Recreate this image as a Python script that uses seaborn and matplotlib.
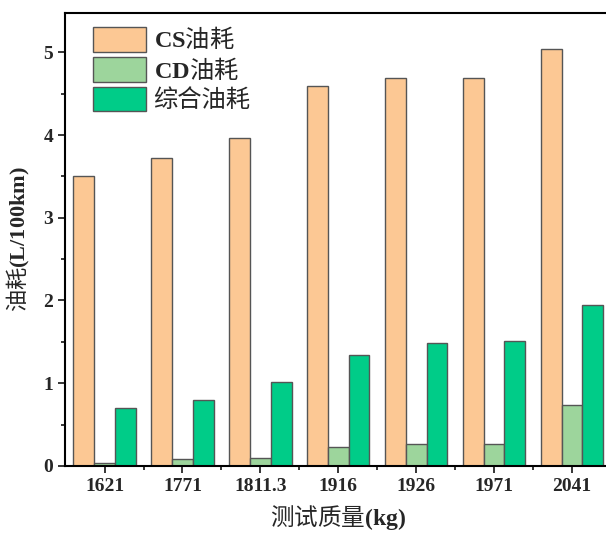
import numpy as np
import pandas as pd
import matplotlib
matplotlib.use("Agg")
import matplotlib.pyplot as plt
from matplotlib.ticker import MultipleLocator, FixedLocator
import seaborn as sns

# data
masses = ["1621", "1771", "1811.3", "1916", "1926", "1971", "2041"]
cs_fuel = [3.51, 3.72, 3.96, 4.59, 4.69, 4.69, 5.04]
cd_fuel = [0.04, 0.08, 0.10, 0.23, 0.27, 0.27, 0.74]
total_fuel = [0.70, 0.80, 1.01, 1.34, 1.49, 1.51, 1.95]
series_names = [r"$\mathbf{CS}\mathrm{油耗}$", r"$\mathbf{CD}\mathrm{油耗}$", "综合油耗"]
colors = ["#FCC894", "#9DD59C", "#00CC88"]

df = pd.DataFrame({
    "mass": masses * 3,
    "fuel": cs_fuel + cd_fuel + total_fuel,
    "kind": np.repeat(series_names, len(masses)),
})

sns.set_style("ticks")
plt.rcParams["font.family"] = ["Liberation Serif", "Noto Sans CJK SC"]
# mixed labels: latin parts bold serif via mathtext, chinese parts in CJK font
plt.rcParams["mathtext.fontset"] = "custom"
plt.rcParams["mathtext.rm"] = "Noto Sans CJK SC"
plt.rcParams["mathtext.bf"] = "Liberation Serif:bold"

fig = plt.figure(figsize=(6.06, 5.33), dpi=100)
ax = fig.add_axes([0.107, 0.126, 0.901, 0.850])

sns.barplot(data=df, x="mass", y="fuel", hue="kind", order=masses,
            hue_order=series_names, palette=colors, width=0.8, gap=0,
            edgecolor="#555555", linewidth=1.0, saturation=1, ax=ax)

ax.set_xlim(-0.51, 6.5)
ax.set_ylim(0, 5.48)
ax.yaxis.set_major_locator(MultipleLocator(1))
ax.yaxis.set_minor_locator(MultipleLocator(0.5))
ax.xaxis.set_minor_locator(FixedLocator(np.arange(len(masses) - 1) + 0.5))

for side in ["left", "top", "bottom", "right"]:
    ax.spines[side].set_linewidth(1.5)
    ax.spines[side].set_color("black")

ax.tick_params(axis="both", which="major", direction="out", length=5, width=1.3,
               labelsize=14)
ax.tick_params(axis="both", which="minor", direction="out", length=3, width=1.3)
for lbl in ax.get_xticklabels() + ax.get_yticklabels():
    lbl.set_fontweight("bold")

ax.set_xlabel(r"$\mathrm{测试质量}\mathbf{(kg)}$", fontsize=17, labelpad=6)
ax.set_ylabel(r"$\mathrm{油耗}\mathbf{(L/100km)}$", fontsize=16, labelpad=8)

leg = ax.legend(loc="upper left", frameon=False, fontsize=17.5,
                handlelength=2.2, handleheight=1.2, handletextpad=0.3,
                labelspacing=0.15, borderaxespad=0.3, bbox_to_anchor=(0.02, 1.01))
for patch in leg.get_patches():
    patch.set_edgecolor("#555555")

fig.savefig("out.png", dpi=100)
